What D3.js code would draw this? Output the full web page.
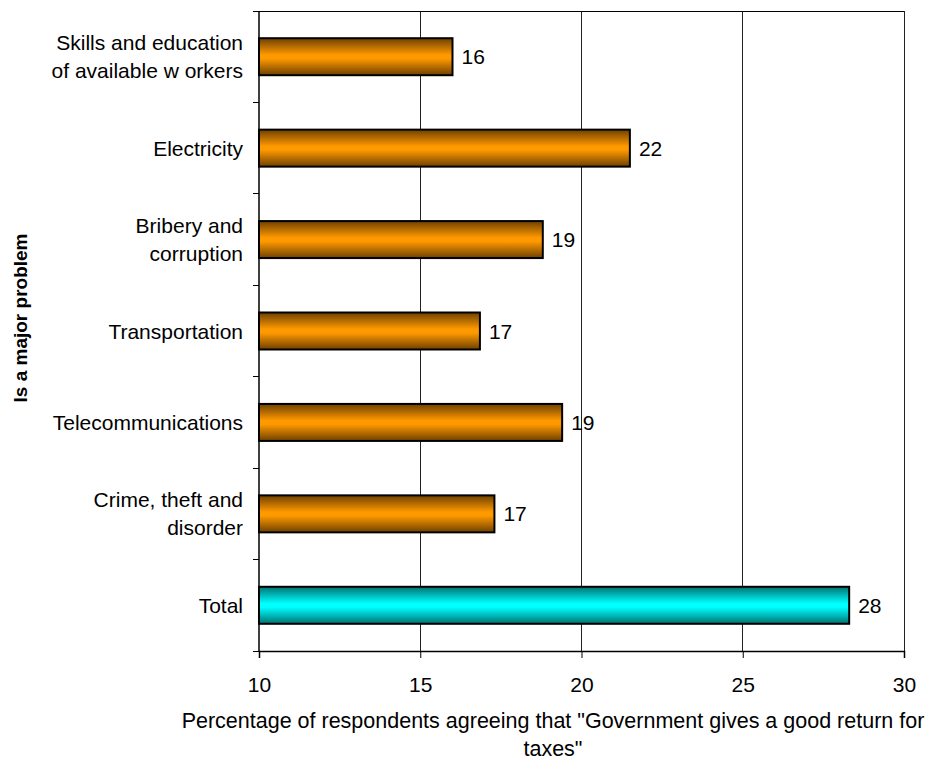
<!DOCTYPE html>
<html>
<head>
<meta charset="utf-8">
<script src="https://cdn.jsdelivr.net/npm/d3@7"></script>
<style>
  html, body { margin: 0; padding: 0; background: #fff; }
  svg { display: block; font-family: "Liberation Sans", Arial, sans-serif; }
</style>
</head>
<body>
<svg id="chart" width="936" height="761"></svg>
<script>
// Share agreeing that the government gives a good return for taxes,
// split by which business problem respondents call "major".
const categories = [
  "Skills and education\nof available w orkers",
  "Electricity",
  "Bribery and\ncorruption",
  "Transportation",
  "Telecommunications",
  "Crime, theft and\ndisorder",
  "Total"
];
const values = [16.0, 21.5, 18.8, 16.85, 19.4, 17.3, 28.3];
const isTotal = [false, false, false, false, false, false, true];
const xTicks = [10, 15, 20, 25, 30];
const xTitle = ["Percentage of respondents agreeing that \"Government gives a good return for", "taxes\""];
const yTitle = "Is a major problem";

const svg = d3.select("#chart");
const plot = { left: 259, right: 904, top: 11, bottom: 651 };
const fontSize = 21;

const x = d3.scaleLinear().domain([10, 30]).range([plot.left, plot.right]);
const y = d3.scaleBand().domain(d3.range(categories.length))
  .range([plot.top, plot.bottom]).paddingInner(0).paddingOuter(0);
const barH = 37;

// vertical gradients: dark edges, bright centre
const defs = svg.append("defs");
function grad(id, edge, mid) {
  const g = defs.append("linearGradient").attr("id", id)
    .attr("x1", 0).attr("y1", 0).attr("x2", 0).attr("y2", 1);
  g.append("stop").attr("offset", "0%").attr("stop-color", edge);
  g.append("stop").attr("offset", "45%").attr("stop-color", mid);
  g.append("stop").attr("offset", "55%").attr("stop-color", mid);
  g.append("stop").attr("offset", "100%").attr("stop-color", edge);
}
grad("gOrange", "#6e4000", "#ff9900");
grad("gCyan", "#007272", "#00ffff");

// gridlines
svg.append("g").selectAll("line").data(xTicks.slice(1))
  .join("line")
  .attr("x1", d => x(d)).attr("x2", d => x(d))
  .attr("y1", plot.top).attr("y2", plot.bottom)
  .attr("stroke", "#222").attr("stroke-width", 1).attr("shape-rendering", "crispEdges");

// plot frame (top edge)
svg.append("line")
  .attr("x1", plot.left).attr("x2", plot.right)
  .attr("y1", plot.top).attr("y2", plot.top)
  .attr("stroke", "#000").attr("shape-rendering", "crispEdges");

// bars
svg.append("g").selectAll("rect").data(values)
  .join("rect")
  .attr("x", x(10))
  .attr("y", (d, i) => y(i) + y.bandwidth() / 2 - barH / 2)
  .attr("width", d => x(d) - x(10))
  .attr("height", barH)
  .attr("fill", (d, i) => isTotal[i] ? "url(#gCyan)" : "url(#gOrange)")
  .attr("stroke", "#000").attr("stroke-width", 2);

// value labels
svg.append("g").selectAll("text").data(values)
  .join("text")
  .attr("x", d => x(d) + 9)
  .attr("y", (d, i) => y(i) + y.bandwidth() / 2)
  .attr("dy", "0.36em")
  .attr("font-size", fontSize)
  .attr("fill", "#000")
  .text(d => d3.format(".0f")(d));

// x axis
const xAxis = d3.axisBottom(x).tickValues(xTicks).tickSize(7).tickPadding(19).tickFormat(d3.format("d"));
const gx = svg.append("g").attr("transform", `translate(0,${plot.bottom})`).call(xAxis);
gx.select(".domain").attr("stroke", "#000").attr("stroke-width", 1.5);
gx.selectAll(".tick line").attr("stroke", "#000");
gx.selectAll("text").attr("font-size", fontSize).attr("fill", "#000")
  .attr("font-family", "'Liberation Sans', Arial, sans-serif");

// y axis: ticks at band boundaries
const yEdges = d3.range(categories.length + 1).map(i => plot.top + i * y.bandwidth());
svg.append("line")
  .attr("x1", plot.left).attr("x2", plot.left)
  .attr("y1", plot.top).attr("y2", plot.bottom)
  .attr("stroke", "#000").attr("stroke-width", 1.5);
svg.append("g").selectAll("line").data(yEdges)
  .join("line")
  .attr("x1", plot.left - 6).attr("x2", plot.left)
  .attr("y1", d => d).attr("y2", d => d)
  .attr("stroke", "#000").attr("shape-rendering", "crispEdges");

// category labels
const lineH = 28;
svg.append("g").selectAll("text").data(categories)
  .join("text")
  .attr("text-anchor", "end")
  .attr("font-size", fontSize)
  .attr("fill", "#000")
  .each(function (d, i) {
    const lines = d.split("\n");
    const cy = y(i) + y.bandwidth() / 2;
    const t = d3.select(this);
    lines.forEach((ln, k) => {
      t.append("tspan")
        .attr("x", 243)
        .attr("y", cy + (k - (lines.length - 1) / 2) * lineH)
        .attr("dy", "0.36em")
        .text(ln);
    });
  });

// axis titles
svg.append("g").selectAll("text").data(xTitle)
  .join("text")
  .attr("x", 553)
  .attr("y", (d, i) => 720 + i * 28)
  .attr("dy", "0.36em")
  .attr("text-anchor", "middle")
  .attr("font-size", 21.5)
  .attr("fill", "#000")
  .text(d => d);

svg.append("text")
  .attr("transform", `translate(20,318) rotate(-90)`)
  .attr("text-anchor", "middle")
  .attr("dy", "0.36em")
  .attr("font-size", 19)
  .attr("font-weight", "bold")
  .attr("fill", "#000")
  .text(yTitle);
</script>
</body>
</html>
